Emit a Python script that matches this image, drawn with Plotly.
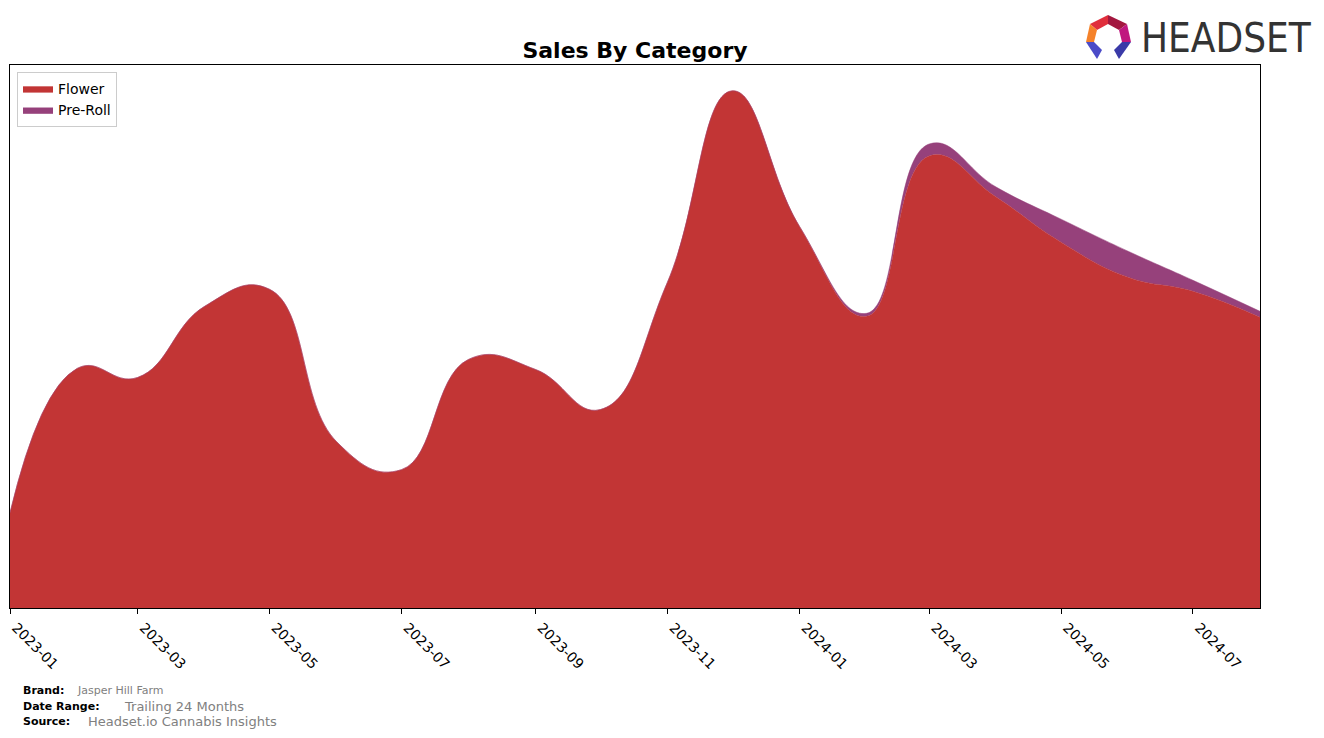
import plotly.graph_objects as go

months = ["2023-01-01", "2023-02-01", "2023-03-01", "2023-04-01", "2023-05-01",
          "2023-06-01", "2023-07-01", "2023-08-01", "2023-09-01", "2023-10-01",
          "2023-11-01", "2023-12-01", "2024-01-01", "2024-02-01", "2024-03-01",
          "2024-04-01", "2024-05-01", "2024-06-01", "2024-07-01", "2024-08-01"]
flower = [95, 239, 230, 301, 318, 166, 138, 248, 238, 198,
          325, 516, 381, 291, 451, 410, 365, 330, 316, 290]
pre_roll = [0, 0, 0, 0, 0, 0, 0, 0, 0, 0,
            0, 0, 0, 3, 12, 10, 23, 26, 11, 6]

FLOWER_C = "#C23535"
PREROLL_C = "#96417B"

# page body has an 8px default margin; work in screen pixels and convert
OFF = 8
W, H = 1308, 722
PLOT_L, PLOT_R, PLOT_T, PLOT_B = 10, 1260, 65, 608  # screen pixels
L = PLOT_L - OFF
T = PLOT_T - OFF
R = W - (PLOT_R - OFF)
B = H - (PLOT_B - OFF)
PW, PH = PLOT_R - PLOT_L, PLOT_B - PLOT_T


def px(x, y):
    return (x - PLOT_L) / PW, (PLOT_B - y) / PH


fig = go.Figure()
fig.add_trace(go.Scatter(x=months, y=flower, name="Flower", stackgroup="one",
                         mode="lines", line=dict(shape="spline", smoothing=1.3, width=0.5, color=FLOWER_C),
                         fillcolor=FLOWER_C))
fig.add_trace(go.Scatter(x=months, y=pre_roll, name="Pre-Roll", stackgroup="one",
                         mode="lines", line=dict(shape="spline", smoothing=1.3, width=0.5, color=PREROLL_C),
                         fillcolor=PREROLL_C))

shapes = []
facets = [
    ("#E02E3C", [(1090, 24), (1108, 15), (1108, 24), (1097, 30)]),
    ("#A3173F", [(1108, 15), (1127, 24), (1119, 30), (1108, 24)]),
    ("#C0177F", [(1127, 24), (1131, 42), (1122, 42), (1119, 30)]),
    ("#F5822A", [(1090, 24), (1097, 30), (1094, 42), (1086, 42)]),
    ("#4B4BC8", [(1086, 42), (1094, 42), (1102, 50), (1097, 59)]),
    ("#3A3AA8", [(1131, 42), (1122, 42), (1114, 50), (1119, 59)]),
]
for col, pts in facets:
    p = [px(a, b) for a, b in pts]
    path = "M " + " L ".join(f"{a:.5f},{b:.5f}" for a, b in p) + " Z"
    shapes.append(dict(type="path", xref="paper", yref="paper", path=path,
                       fillcolor=col, line=dict(width=0), layer="above"))

annotations = []
hx, hy = px(1139, 38)
annotations.append(dict(text="HEADSET", xref="paper", yref="paper", x=hx, y=hy,
                        xanchor="left", yanchor="middle", showarrow=False,
                        font=dict(family="DejaVu Sans Condensed, DejaVu Sans, sans-serif",
                                  size=40, color="#333333")))

footer = [
    ("Brand:", 21, 690, "Jasper Hill Farm", 75, 11),
    ("Date Range:", 21, 706, "Trailing 24 Months", 122, 13),
    ("Source:", 21, 721, "Headset.io Cannabis Insights", 86, 13),
]
for lab, lx, ly, val, vx, vs in footer:
    ax_, ay_ = px(lx, ly)
    annotations.append(dict(text=f"<b>{lab}</b>", xref="paper", yref="paper", x=ax_, y=ay_,
                            xanchor="left", yanchor="middle", showarrow=False,
                            font=dict(family="DejaVu Sans", size=11, color="#000000")))
    vx_, vy_ = px(vx, ly)
    annotations.append(dict(text=val, xref="paper", yref="paper", x=vx_, y=vy_,
                            xanchor="left", yanchor="middle", showarrow=False,
                            font=dict(family="DejaVu Sans", size=vs, color="#808080")))

fig.update_layout(
    width=W, height=H,
    margin=dict(l=L, r=R, t=T, b=B, autoexpand=False),
    paper_bgcolor="white", plot_bgcolor="white",
    title=dict(text="<b>Sales By Category</b>", x=(635 - OFF) / W, xanchor="center",
               y=1 - (50 - OFF) / H, yanchor="middle", yref="container",
               font=dict(family="DejaVu Sans", size=22, color="#000000")),
    legend=dict(x=px(17, 72)[0], y=px(17, 72)[1], xanchor="left", yanchor="top",
                bgcolor="white", bordercolor="#cccccc", borderwidth=1,
                font=dict(family="DejaVu Sans", size=14, color="#000000"),
                traceorder="normal", itemwidth=30),
    showlegend=True,
    shapes=shapes,
    annotations=annotations,
    font=dict(family="DejaVu Sans", color="#000000"),
)
fig.update_xaxes(range=["2023-01-01", "2024-08-01"], tick0="2023-01-01", dtick="M2",
                 tickformat="%Y-%m", tickangle=45, ticks="outside", ticklen=5,
                 tickcolor="#000000", showline=True, linecolor="#000000", linewidth=1,
                 mirror=True, showgrid=False, zeroline=False, automargin=False,
                 ticklabeloverflow="allow", ticklabelshift=6,
                 tickfont=dict(family="DejaVu Sans", size=14, color="#000000"))
fig.update_yaxes(range=[0, max(f + p for f, p in zip(flower, pre_roll)) * 1.05],
                 showticklabels=False, ticks="", showline=True, linecolor="#000000",
                 linewidth=1, mirror=True, showgrid=False, zeroline=False, automargin=False)

fig.write_html("out.html")
